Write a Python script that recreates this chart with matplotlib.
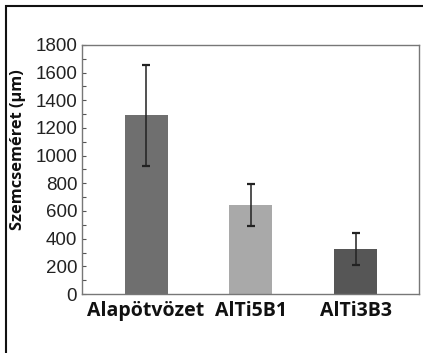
import matplotlib.pyplot as plt
from matplotlib.patches import Rectangle
from matplotlib.ticker import MultipleLocator

# adatok (leolvasva az abráról)
categories = ['Alapötvözet', 'AlTi5B1', 'AlTi3B3']
grain_size = [1290, 645, 325]
grain_err = [365, 150, 118]
bar_colors = ['#6f6f6f', '#a9a9a9', '#565656']

fig = plt.figure(figsize=(4.23, 3.53), dpi=100)
ax = fig.add_axes([0.194, 0.167, 0.796, 0.706])

x = range(len(categories))
ax.bar(x, grain_size, width=0.41, color=bar_colors, edgecolor='none')
ax.errorbar(x, grain_size, yerr=grain_err, fmt='none', ecolor='#222222',
            elinewidth=1.1, capsize=3, capthick=1.6)

ax.set_xlim(-0.61, 2.6)
ax.set_ylim(0, 1800)
ax.yaxis.set_major_locator(MultipleLocator(200))
ax.yaxis.set_minor_locator(MultipleLocator(100))
ax.tick_params(axis='y', which='both', direction='in', colors='#555555',
               labelcolor='#222222', labelsize=13.5, length=3, width=0.8)
ax.tick_params(axis='x', length=0, pad=5)
ax.set_xticks(list(x))
ax.set_xticklabels(categories, fontfamily='Open Sans', fontweight='bold',
                   fontsize=14, color='#111111')
for lbl in ax.get_yticklabels():
    lbl.set_fontfamily('Liberation Sans')
for s in ax.spines.values():
    s.set_color('#777777')
    s.set_linewidth(1.0)

fig.text(18 / 423, 1 - 150 / 353, 'Szemcseméret (µm)', rotation=90,
         ha='center', va='center', fontfamily='Open Sans', fontweight='bold',
         fontsize=11.8, color='#111111')

# keret a kép körül
fig.patches.append(Rectangle((6 / 423, -0.1), 1.2, (353 - 6) / 353 + 0.1,
                             transform=fig.transFigure, fill=False,
                             edgecolor='#111111', linewidth=1.5))

fig.savefig('out.png', dpi=100)
